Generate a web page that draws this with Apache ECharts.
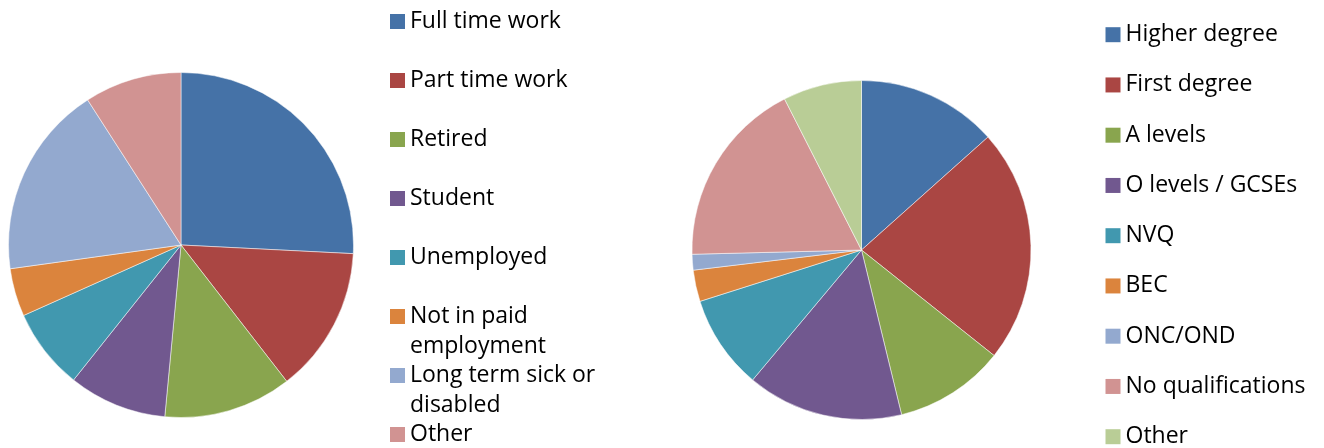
<!DOCTYPE html>
<html>
<head>
<meta charset="utf-8">
<script src="https://cdn.jsdelivr.net/npm/echarts@6/dist/echarts.min.js"></script>
<style>
  html, body { margin: 0; padding: 0; background: #fff; }
  #chart { width: 1324px; height: 448px; }
</style>
</head>
<body>
<div id="chart"></div>
<script>
// Employment status (left pie)
const employmentCategories = [
  'Full time work', 'Part time work', 'Retired', 'Student', 'Unemployed',
  'Not in paid employment', 'Long term sick or disabled', 'Other'
];
const employmentValues = [25.8, 13.7, 12.0, 9.2, 7.6, 4.5, 18.1, 9.1];

// Highest qualification (right pie)
const qualificationCategories = [
  'Higher degree', 'First degree', 'A levels', 'O levels / GCSEs', 'NVQ',
  'BEC', 'ONC/OND', 'No qualifications', 'Other'
];
const qualificationValues = [13.4, 22.3, 10.5, 14.9, 9.0, 3.0, 1.5, 17.9, 7.5];

const palette = ['#4572A7', '#AA4643', '#89A54E', '#71588F', '#4198AF',
                 '#DB843D', '#93A9CF', '#D19392', '#B9CD96'];

// Long legend names break onto a second line
const wrappedNames = {
  'Not in paid employment': ['Not in paid', 'employment'],
  'Long term sick or disabled': ['Long term sick or', 'disabled']
};

const FONT = '"Open Sans"';
const FONT_SIZE = 23;
const LINE = 29.5;

function legendColumn(names, left, firstCenter, step) {
  return names.map((name, i) => {
    const center = firstCenter + i * step;
    const wrapped = wrappedNames[name];
    // A blank leading line keeps the first text line level with the swatch
    const label = wrapped ? ' \n' + wrapped.join('\n') : name;
    const height = wrapped ? LINE * 3 : LINE;
    return {
      orient: 'vertical',
      left: left,
      top: center - height / 2,
      padding: 0,
      itemWidth: 15,
      itemHeight: 15,
      icon: 'rect',
      selectedMode: false,
      itemStyle: { borderWidth: 0 },
      data: [{ name: name, itemStyle: { color: palette[i], borderWidth: 0 } }],
      formatter: () => label,
      textStyle: { fontFamily: FONT, fontSize: FONT_SIZE, color: '#000', lineHeight: LINE }
    };
  });
}

function pieData(names, values) {
  return names.map((name, i) => ({
    name: name, value: values[i], itemStyle: { color: palette[i] }
  }));
}

const pieCommon = {
  type: 'pie',
  startAngle: 90,
  clockwise: true,
  label: { show: false },
  labelLine: { show: false },
  emphasis: { disabled: true },
  itemStyle: { borderColor: '#ffffff', borderWidth: 0.5 }
};

const chart = echarts.init(document.getElementById('chart'), null, { renderer: 'canvas' });
chart.setOption({
  animation: false,
  backgroundColor: '#ffffff',
  legend: [
    ...legendColumn(employmentCategories, 390, 21.5, 59.0),
    ...legendColumn(qualificationCategories, 1105.5, 34.7, 50.25)
  ],
  series: [
    Object.assign({}, pieCommon, {
      name: 'Employment',
      center: [181, 245],
      radius: 172.5,
      data: pieData(employmentCategories, employmentValues)
    }),
    Object.assign({}, pieCommon, {
      name: 'Qualification',
      center: [861.5, 250],
      radius: 169.5,
      data: pieData(qualificationCategories, qualificationValues)
    })
  ]
});
</script>
</body>
</html>
